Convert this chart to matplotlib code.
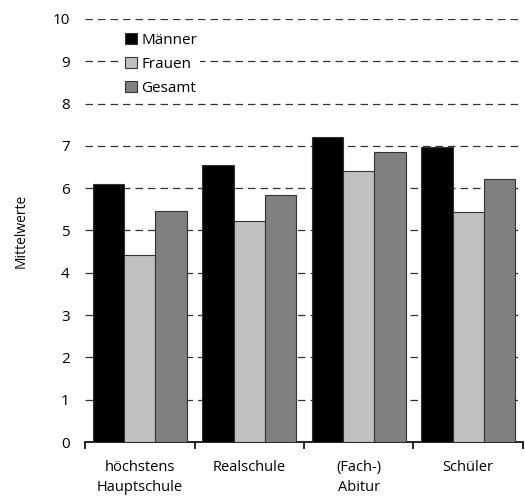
import matplotlib
matplotlib.use("Agg")
import matplotlib.pyplot as plt
import numpy as np

plt.rcParams["font.family"] = ["Open Sans", "DejaVu Sans"]

categories = ["höchstens\nHauptschule", "Realschule", "(Fach-)\nAbitur", "Schüler"]
maenner = [6.10, 6.55, 7.20, 6.98]
frauen = [4.43, 5.22, 6.40, 5.43]
gesamt = [5.47, 5.84, 6.85, 6.22]
series = [("Männer", maenner, "#000000"),
          ("Frauen", frauen, "#c0c0c0"),
          ("Gesamt", gesamt, "#808080")]

fig = plt.figure(figsize=(5.25, 5.0), dpi=100)
ax = fig.add_axes([0.162, 0.116, 0.834, 0.846])

x = np.arange(len(categories))
w = 0.285
for i, (name, vals, col) in enumerate(series):
    ax.bar(x + (i - 1) * w, vals, width=w, color=col, edgecolor="#333333",
           linewidth=0.8, label=name, zorder=3)

ax.set_xlim(-0.5, len(categories) - 0.5)
ax.set_ylim(0, 10)
ax.set_yticks(range(0, 11))
ax.yaxis.grid(True, linestyle=(0, (6, 4)), color="#333333", linewidth=0.9, zorder=0)
ax.set_axisbelow(True)

ax.set_xticks(x)
ax.set_xticklabels(categories, fontsize=10.5, linespacing=1.45)
ax.tick_params(axis="x", length=0, pad=13)
ax.set_xticks(np.arange(-0.5, len(categories)), minor=True)
ax.tick_params(axis="x", which="minor", length=5, width=1.2, direction="out")
ax.tick_params(axis="y", length=0, labelsize=11, pad=11)

for s in ["top", "right", "left"]:
    ax.spines[s].set_visible(False)
ax.spines["bottom"].set_linewidth(1.2)

ax.set_ylabel("Mittelwerte", fontsize=10, labelpad=17)

leg = ax.legend(loc="upper left", bbox_to_anchor=(0.085, 0.975), frameon=True,
                fontsize=11, handlelength=0.75, handleheight=0.75,
                handletextpad=0.3, labelspacing=0.6, borderpad=0.2,
                borderaxespad=0)
leg.get_frame().set_facecolor("white")
leg.get_frame().set_edgecolor("none")
leg.get_frame().set_alpha(1)

fig.savefig("out.png", dpi=100)
